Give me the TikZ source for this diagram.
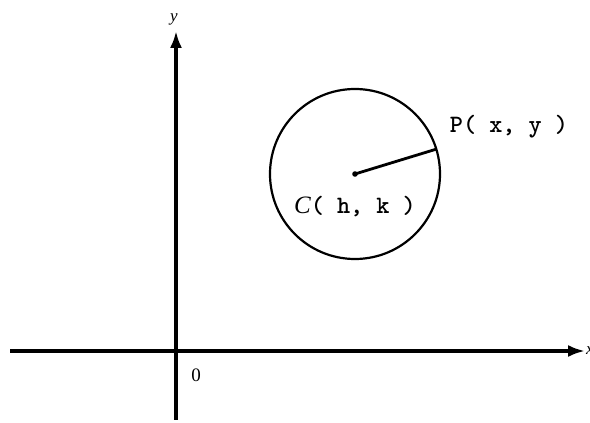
\documentclass[tikz,border=0pt]{standalone}
\usepackage{fontspec}
\setmainfont{Liberation Serif}
\usetikzlibrary{arrows.meta, calc}
\definecolor{cfInk}{HTML}{000000}
\tikzset{
  axis/.style={-{Latex[length=17pt, width=12pt]}, line width=3.2pt, draw=cfInk},
  rim/.style={line width=2.2pt, draw=cfInk},
  ptlbl/.style={font=\fontsize{25}{27}\selectfont\ttfamily\bfseries, text=cfInk, inner sep=0pt},
  axlbl/.style={font=\fontsize{17}{19}\selectfont\itshape, text=cfInk, inner sep=0pt},
}
\begin{document}
\begin{tikzpicture}[x=1pt, y=1pt]
  \useasboundingbox (0,0) rectangle (590,423);
  % axes
  \coordinate (xl) at (10,72);
  \coordinate (xr) at (585,72);
  \coordinate (yb) at (176,3);
  \coordinate (yt) at (176,392);
  \draw[axis] (xl) -- (xr);
  \draw[axis] (yb) -- (yt);
  \node[axlbl] (ylab) at (174,404) {y};
  \node[axlbl, anchor=west] (xlab) at (586,72) {x};
  \node[axlbl, font=\fontsize{19}{21}\selectfont\upshape] (orig) at (196,48) {0};
  % circle with centre and radius
  \coordinate (c) at (355,249);
  \coordinate (p) at ($(c)+(17:85)$);
  \draw[rim] (c) circle[radius=85];
  \fill[cfInk] (c) circle[radius=2.8];
  \draw[rim, line width=2.8pt] (c) -- (p);
  \node[ptlbl] (plab) at (509,296) {P( x, y )};
  \node[ptlbl] (clab) at (355,216) {{\rmfamily\mdseries\itshape C}( h, k )};
\end{tikzpicture}
\end{document}
